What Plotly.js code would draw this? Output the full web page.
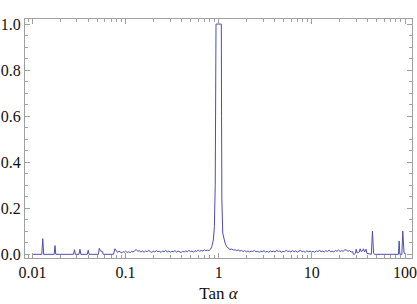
<!DOCTYPE html>
<html>
<head>
<meta charset="utf-8">
<script src="https://cdn.plot.ly/plotly-3.0.1.min.js"></script>
<style>html,body{margin:0;padding:0;background:#fff;}#chart{width:417px;height:304px;}</style>
</head>
<body>
<div id="chart"></div>
<script>
// Left sparse spikes (0.01 .. 0.077)
var leftSpikesX = [0.01, 0.0126, 0.0129, 0.0132, 0.0171, 0.01746, 0.0178, 0.0276, 0.02825, 0.0289, 0.0316, 0.03236, 0.0331, 0.0388, 0.0397, 0.0406, 0.0510, 0.0522, 0.0535, 0.0550, 0.0565, 0.0575, 0.0740, 0.0769];
var leftSpikesY = [0, 0, 0.068, 0, 0, 0.038, 0, 0, 0.02, 0, 0, 0.022, 0, 0, 0.018, 0, 0, 0.026, 0.015, 0.014, 0.012, 0, 0, 0.024];

// Noise below the peak
var leftNoiseX = [0.080, 0.082, 0.085, 0.088, 0.091, 0.094, 0.097, 0.100, 0.104, 0.108, 0.112, 0.116, 0.120, 0.125, 0.130, 0.135, 0.140, 0.146, 0.152, 0.158, 0.164, 0.170, 0.177, 0.184, 0.191, 0.198, 0.206, 0.214, 0.222, 0.231, 0.240, 0.249, 0.259, 0.269, 0.280, 0.291, 0.302, 0.314, 0.326, 0.339, 0.352, 0.366, 0.380, 0.395, 0.410, 0.426, 0.443, 0.460, 0.478, 0.497, 0.516, 0.536, 0.557, 0.579, 0.602, 0.625, 0.650, 0.675, 0.701, 0.729, 0.757, 0.787, 0.817];
var leftNoiseY = [0.012, 0.008, 0.014, 0.010, 0.006, 0.012, 0.009, 0.014, 0.008, 0.011, 0.007, 0.013, 0.010, 0.015, 0.021, 0.013, 0.016, 0.010, 0.014, 0.009, 0.015, 0.011, 0.017, 0.012, 0.008, 0.014, 0.010, 0.016, 0.011, 0.013, 0.008, 0.015, 0.011, 0.017, 0.010, 0.014, 0.009, 0.013, 0.011, 0.016, 0.010, 0.014, 0.012, 0.008, 0.013, 0.010, 0.015, 0.011, 0.017, 0.012, 0.014, 0.009, 0.016, 0.012, 0.019, 0.013, 0.017, 0.014, 0.020, 0.015, 0.018, 0.016, 0.022];

// Main peak around Tan α = 1
var peakX = [0.841, 0.875, 0.898, 0.917, 0.930, 0.935, 1.0, 1.066, 1.072, 1.080, 1.104, 1.169, 1.219];
var peakY = [0.033, 0.062, 0.12, 0.30, 0.65, 1.0, 1.0, 1.0, 0.6, 0.24, 0.092, 0.049, 0.033];

// Noise above the peak
var rightNoiseX = [1.27, 1.32, 1.38, 1.44, 1.50, 1.56, 1.62, 1.69, 1.76, 1.83, 1.90, 1.98, 2.06, 2.14, 2.23, 2.32, 2.41, 2.51, 2.61, 2.72, 2.83, 2.94, 3.06, 3.18, 3.31, 3.44, 3.58, 3.72, 3.87, 4.03, 4.19, 4.36, 4.53, 4.71, 4.90, 5.10, 5.30, 5.51, 5.73, 5.96, 6.20, 6.45, 6.71, 6.98, 7.26, 7.55, 7.85, 8.16, 8.49, 8.83, 9.18, 9.55, 9.93, 10.3, 10.7, 11.2, 11.6, 12.1, 12.6, 13.1, 13.6, 14.1, 14.7, 15.3, 15.9, 16.5, 17.2, 17.9, 18.6, 19.3, 20.1, 20.9, 21.7, 22.6, 23.5, 24.4, 25.4, 26.4, 27.4, 27.9];
var rightNoiseY = [0.026, 0.021, 0.023, 0.018, 0.020, 0.016, 0.019, 0.014, 0.017, 0.012, 0.016, 0.011, 0.015, 0.010, 0.014, 0.012, 0.017, 0.011, 0.013, 0.009, 0.014, 0.011, 0.016, 0.010, 0.013, 0.009, 0.015, 0.011, 0.014, 0.010, 0.017, 0.012, 0.015, 0.009, 0.013, 0.011, 0.018, 0.012, 0.014, 0.010, 0.016, 0.011, 0.015, 0.009, 0.014, 0.017, 0.011, 0.013, 0.009, 0.015, 0.011, 0.014, 0.010, 0.013, 0.009, 0.015, 0.012, 0.017, 0.011, 0.014, 0.010, 0.016, 0.012, 0.018, 0.011, 0.014, 0.010, 0.017, 0.013, 0.019, 0.012, 0.016, 0.013, 0.020, 0.018, 0.013, 0.016, 0.010, 0.012, 0];

// Sparse spikes at the high end
var rightSpikesX = [28.5, 29.4, 29.9, 30.6, 31.5, 32.3, 33.0, 33.8, 34.8, 35.8, 36.8, 37.6, 38.2, 39.0, 43.5, 44.7, 46.0, 47.4, 85.0, 86.5, 88.0, 92.5, 94.6, 97.5, 100];
var rightSpikesY = [0, 0.005, 0.022, 0.006, 0.008, 0.010, 0.024, 0.012, 0.014, 0.024, 0.010, 0.016, 0.022, 0.004, 0, 0.101, 0.004, 0, 0, 0.058, 0, 0, 0.101, 0.010, 0];

var xTickVals = [0.01, 0.1, 1, 10, 100];
var xTickText = ["0.01", "0.1", "1", "10", "100"];
var yTickVals = [0, 0.2, 0.4, 0.6, 0.8, 1.0];
var yTickText = ["0.0", "0.2", "0.4", "0.6", "0.8", "1.0"];

var xs = [].concat(leftSpikesX, leftNoiseX, peakX, rightNoiseX, rightSpikesX);
var ys = [].concat(leftSpikesY, leftNoiseY, peakY, rightNoiseY, rightSpikesY);

var frame = '#a0a0a0';
var serif = 'Times New Roman, Liberation Serif, Times, serif';
var tickFont = {family: serif, size: 16, color: '#111'};

var data = [{
  x: xs, y: ys, type: 'scatter', mode: 'lines',
  line: {color: 'rgb(78,78,175)', width: 1},
  hoverinfo: 'none'
}];

var layout = {
  width: 417, height: 304,
  margin: {l: 25, r: 5, t: 19, b: 46},
  paper_bgcolor: '#fff', plot_bgcolor: '#fff',
  font: {family: serif},
  showlegend: false,
  xaxis: {
    type: 'log', range: [-2.08, 2.075],
    tickvals: xTickVals, ticktext: xTickText,
    ticks: 'inside', ticklen: 5, tickcolor: frame, tickwidth: 1,
    minor: {ticks: 'inside', ticklen: 3, tickcolor: frame, dtick: 'D1', showgrid: false},
    showgrid: false, zeroline: false,
    showline: true, linecolor: frame, linewidth: 1, mirror: 'allticks',
    tickfont: tickFont, ticklabelstandoff: 0, ticklabeloverflow: 'allow',
    title: {text: 'Tan <i>α</i>', font: {family: serif, size: 17, color: '#111'}, standoff: 6}
  },
  yaxis: {
    range: [-0.016, 1.022],
    tickvals: yTickVals, ticktext: yTickText,
    ticks: 'inside', ticklen: 5, tickcolor: frame, tickwidth: 1,
    minor: {ticks: 'inside', ticklen: 3, tickcolor: frame, dtick: 0.05, showgrid: false},
    showgrid: false, zeroline: false,
    showline: true, linecolor: frame, linewidth: 1, mirror: 'allticks',
    tickfont: tickFont, ticklabelstandoff: 0, ticklabeloverflow: 'allow'
  }
};

Plotly.newPlot('chart', data, layout, {staticPlot: true, displayModeBar: false});
</script>
</body>
</html>
